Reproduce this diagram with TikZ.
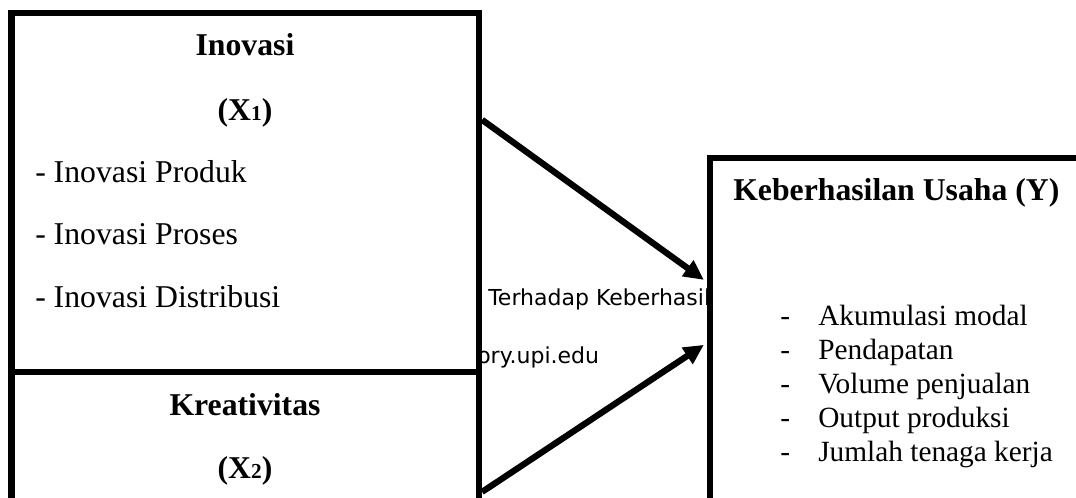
\documentclass[tikz,border=0pt]{standalone}
\usepackage{fontspec}
\setmainfont{Liberation Serif}
\newfontfamily\wmfont{DejaVu Sans}
\usetikzlibrary{arrows.meta,fit}
% smaller digit used as an index after X
\newcommand{\idx}[1]{{\fontsize{16}{16}\selectfont #1}}
\begin{document}
\begin{tikzpicture}[x=0.75pt,y=-0.75pt,
  frame/.style={draw=black, line width=4.7pt, fill=white, inner sep=0pt},
  link/.style={line width=4.7pt, -{Triangle[length=15pt,width=14pt]}},
  head/.style={inner sep=0pt, anchor=base, font=\bfseries\fontsize{23.8}{28}\selectfont},
  item/.style={inner sep=0pt, anchor=base west, font=\fontsize{23.8}{28}\selectfont},
  yitem/.style={inner sep=0pt, anchor=base west, font=\fontsize{22}{26}\selectfont},
  wm/.style={inner sep=0pt, anchor=base west, font=\wmfont\fontsize{16.5}{20}\selectfont}]
\clip (0,0) rectangle (1076,497);
\fill[white] (0,0) rectangle (1076,497);

% background text fragments between the boxes
\node[wm] (wm1) at (488,305) {Terhadap Keberhasil};
\node[wm] (wm2) at (477,363) {ory.upi.edu};

% frames
\coordinate (b1a) at (11.5,13);
\coordinate (b1b) at (479,372);
\coordinate (b2a) at (11.5,372);
\coordinate (b2b) at (479,530);
\coordinate (bya) at (710,158);
\coordinate (byb) at (1110,530);
\node[frame, fit=(b1a)(b1b)] (inov) {};
\node[frame, fit=(b2a)(b2b)] (kre) {};
\node[frame, fit=(bya)(byb)] (keb) {};

% Inovasi (X1)
\node[head] (t1) at (245,55) {Inovasi};
\node[head] (t1x) at (245,120) {(X\idx{1})};
\node[item] (i1) at (35,182) {- Inovasi Produk};
\node[item] (i2) at (35,244) {- Inovasi Proses};
\node[item] (i3) at (35,307) {- Inovasi Distribusi};

% Kreativitas (X2)
\node[head] (t2) at (245,415) {Kreativitas};
\node[head] (t2x) at (245,478) {(X\idx{2})};

% Keberhasilan Usaha (Y)
\node[head, anchor=base west] (ty) at (733,200) {Keberhasilan Usaha (Y)};
\foreach \n/\yy/\txt in {1/325/Akumulasi modal, 2/359/Pendapatan, 3/393/Volume penjualan, 4/427/Output produksi, 5/461/Jumlah tenaga kerja}{
  \node[yitem] (d\n) at (780,\yy) {-};
  \node[yitem] (y\n) at (818,\yy) {\txt};
}

% arrows into Y
\path (inov.north east) ++(0,110) coordinate (s1);
\path (kre.north east) ++(0,123) coordinate (s2);
\path (keb.north west) ++(-3,125) coordinate (e1);
\path (keb.north west) ++(-3,190) coordinate (e2);
\draw[link] (s1) -- (e1);
\draw[link] (s2) -- (e2);
\end{tikzpicture}
\end{document}
